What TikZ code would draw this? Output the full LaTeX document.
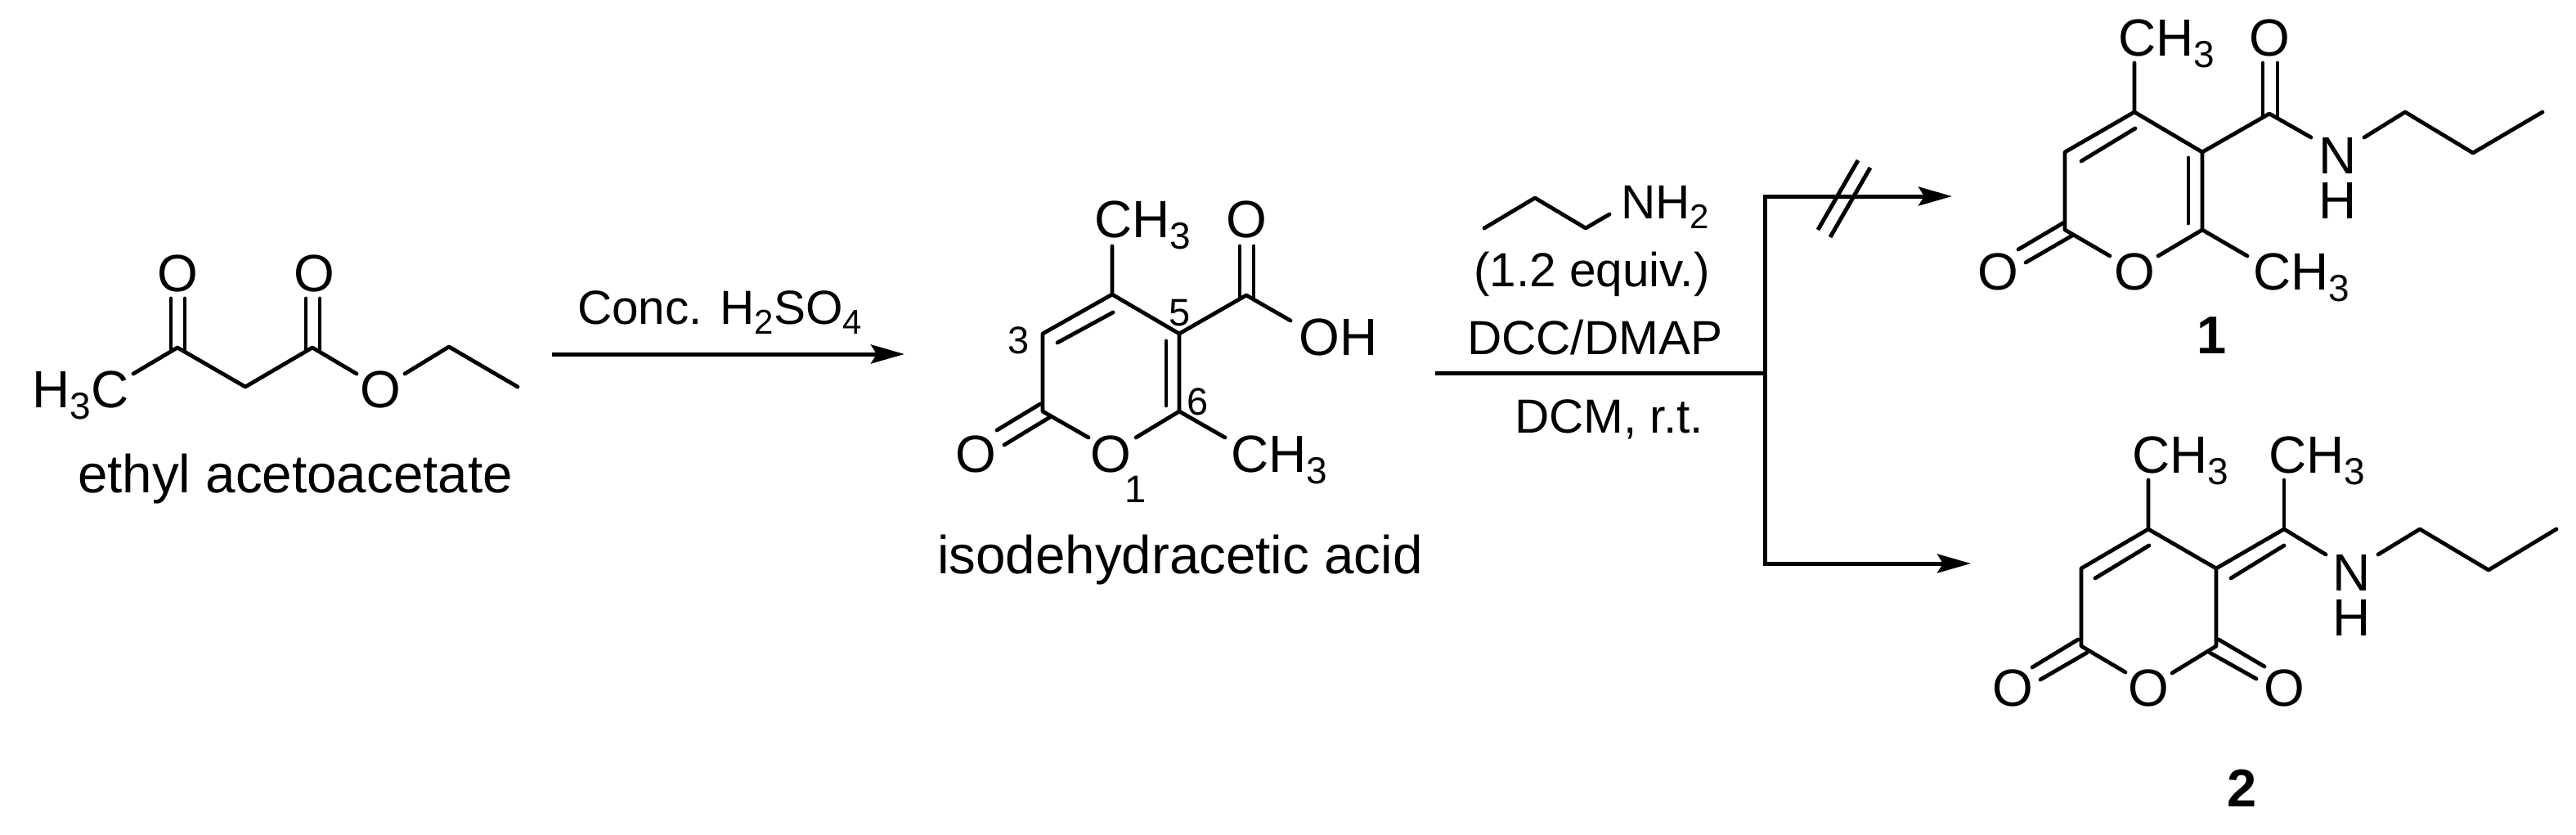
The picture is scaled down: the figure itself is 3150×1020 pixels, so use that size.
\documentclass[tikz,border=0pt]{standalone}
\usepackage{fontspec}
\setmainfont{Liberation Sans}
\usetikzlibrary{arrows.meta}
\newcommand{\chemsub}[1]{\raisebox{-14pt}{\fontsize{46}{46}\selectfont #1}}
\newcommand{\reagsub}[1]{\raisebox{-12pt}{\fontsize{42}{42}\selectfont #1}}
\tikzset{
  bond/.style={line width=4.8pt,line cap=round,line join=round,black},
  rxn/.style={line width=5pt,black},
  rxnarrow/.style={rxn,-{Stealth[length=41pt,width=23pt,inset=7pt]}},
  atom/.style={inner sep=0pt,anchor=base west,font=\fontsize{64}{64}\selectfont},
  catom/.style={inner sep=0pt,anchor=base,font=\fontsize{64}{64}\selectfont},
  caption/.style={inner sep=0pt,anchor=base west,font=\fontsize{65.5}{65.5}\selectfont},
  reagent/.style={inner sep=0pt,anchor=base west,font=\fontsize{58.5}{58.5}\selectfont},
  locant/.style={inner sep=0pt,anchor=base,font=\fontsize{47}{47}\selectfont},
  cmpd/.style={inner sep=0pt,anchor=base,font=\fontsize{65}{65}\selectfont\bfseries}
}
\begin{document}
\begin{tikzpicture}[x=1pt,y=-1pt]
\fill[white] (0,0) rectangle (3150,1020);
\useasboundingbox (0,0) rectangle (3150,1020);

% ---------- ethyl acetoacetate ----------
\node[atom] (eMe) at (39,498) {H\chemsub{3}C};
\node[catom] (eO1) at (217,356) {O};
\node[catom] (eO2) at (384,356) {O};
\node[catom] (eO3) at (465,498) {O};
\node[caption] (eName) at (95,602) {ethyl acetoacetate};
\coordinate (eA) at (163,457);
\coordinate (eC1) at (217,425);
\coordinate (eCH2) at (300,473);
\coordinate (eC2) at (382,425);
\coordinate (eB) at (436,457);
\coordinate (eD) at (495,457);
\coordinate (eE) at (549,424);
\coordinate (eF) at (633,473);
\coordinate (eP1) at (209,365); \coordinate (eP1b) at (209,428);
\coordinate (eP2) at (226,365); \coordinate (eP2b) at (226,428);
\coordinate (eP3) at (374,365); \coordinate (eP3b) at (374,428);
\coordinate (eP4) at (391,365); \coordinate (eP4b) at (391,428);
\draw[bond] (eA) -- (eC1) -- (eCH2) -- (eC2) -- (eB);
\draw[bond] (eD) -- (eE) -- (eF);
\draw[bond] (eP1) -- (eP1b);
\draw[bond] (eP2) -- (eP2b);
\draw[bond] (eP3) -- (eP3b);
\draw[bond] (eP4) -- (eP4b);

% ---------- arrow 1 ----------
\coordinate (arrA) at (675,433);
\coordinate (arrB) at (1106,433);
\draw[rxnarrow] (arrA) -- (arrB);
\node[reagent] (conc) at (706,396) {Conc. H\reagsub{2}SO\reagsub{4}};

% ---------- isodehydracetic acid ----------
\node[atom] (iMe1) at (1338,290) {CH\chemsub{3}};
\node[catom] (iO1) at (1524,290) {O};
\node[atom] (iOH) at (1588,434) {OH};
\node[catom] (iO2) at (1358,577) {O};
\node[catom] (iO3) at (1193,577) {O};
\node[atom] (iMe2) at (1505,577) {CH\chemsub{3}};
\node[locant] (n3) at (1246,432) {3};
\node[locant] (n5) at (1443,398) {5};
\node[locant] (n6) at (1465,507) {6};
\node[locant] (n1) at (1389,614) {1};
\node[caption] (iName) at (1146,701) {isodehydracetic acid};
\coordinate (iC4) at (1360,360);
\coordinate (iC4t) at (1360,301);
\coordinate (iC3) at (1275,408);
\coordinate (iC2) at (1275,503);
\coordinate (iC5) at (1442,408);
\coordinate (iC6) at (1442,503);
\coordinate (iOa) at (1331,535);
\coordinate (iOb) at (1389,535);
\coordinate (iMe2a) at (1498,535);
\coordinate (iCc) at (1524,361);
\coordinate (iOHa) at (1578,392);
\coordinate (iIn1) at (1293,419); \coordinate (iIn2) at (1361,382);
\coordinate (iIn3) at (1426,417); \coordinate (iIn4) at (1426,496);
\coordinate (iK1) at (1219,526); \coordinate (iK2) at (1272,494);
\coordinate (iK3) at (1228,544); \coordinate (iK4) at (1284,510);
\coordinate (iL1) at (1516,301); \coordinate (iL2) at (1516,364);
\coordinate (iL3) at (1533,301); \coordinate (iL4) at (1533,364);
\draw[bond] (iC4t) -- (iC4) -- (iC3) -- (iC2) -- (iOa);
\draw[bond] (iC4) -- (iC5) -- (iC6) -- (iOb);
\draw[bond] (iC6) -- (iMe2a);
\draw[bond] (iC5) -- (iCc) -- (iOHa);
\draw[bond] (iIn1) -- (iIn2);
\draw[bond] (iIn3) -- (iIn4);
\draw[bond] (iK1) -- (iK2);
\draw[bond] (iK3) -- (iK4);
\draw[bond] (iL1) -- (iL2);
\draw[bond] (iL3) -- (iL4);

% ---------- reagents ----------
\node[reagent] (nh2) at (1982,267) {NH\reagsub{2}};
\node[reagent] (equiv) at (1802,350) {(1.2 equiv.)};
\node[reagent] (dcc) at (1794,433) {DCC/DMAP};
\node[reagent] (dcm) at (1852,529) {DCM, r.t.};
\coordinate (pA) at (1815,279);
\coordinate (pB) at (1877,242);
\coordinate (pC) at (1939,279);
\coordinate (pD) at (1968,262);
\draw[bond] (pA) -- (pB) -- (pC) -- (pD);

% ---------- branched arrow ----------
\coordinate (brS) at (1755,456);
\coordinate (brM) at (2158,456);
\coordinate (brT) at (2158,237.5);
\coordinate (brB) at (2158,691.5);
\coordinate (brTa) at (2155.5,240);
\coordinate (brBa) at (2155.5,689);
\coordinate (tipT) at (2387,240);
\coordinate (tipB) at (2410,689);
\coordinate (sl1a) at (2272,196); \coordinate (sl1b) at (2223,281);
\coordinate (sl2a) at (2287,205); \coordinate (sl2b) at (2238,290);
\draw[rxn] (brS) -- (brM);
\draw[rxn] (brT) -- (brB);
\draw[rxnarrow] (brTa) -- (tipT);
\draw[rxnarrow] (brBa) -- (tipB);
\draw[rxn] (sl1a) -- (sl1b);
\draw[rxn] (sl2a) -- (sl2b);

% ---------- compound 1 ----------
\node[atom] (aMe1) at (2590,68) {CH\chemsub{3}};
\node[catom] (aO1) at (2775,68) {O};
\node[catom] (aO2) at (2610,354) {O};
\node[catom] (aO3) at (2443,354) {O};
\node[atom] (aMe2) at (2755,354) {CH\chemsub{3}};
\node[catom] (aN) at (2859,212) {N};
\node[catom] (aH) at (2859,267) {H};
\node[cmpd] (lab1) at (2705,432) {1};
\coordinate (aC4) at (2610,137);
\coordinate (aC4t) at (2610,77);
\coordinate (aC3) at (2525,186);
\coordinate (aC2) at (2525,281);
\coordinate (aC5) at (2693,186);
\coordinate (aC6) at (2693,281);
\coordinate (aOa) at (2580,313);
\coordinate (aOb) at (2639,313);
\coordinate (aMe2a) at (2748,313);
\coordinate (aCc) at (2775,139);
\coordinate (aNa) at (2826,168);
\coordinate (aNb) at (2891,168);
\coordinate (aP1) at (2941,137);
\coordinate (aP2) at (3024,187);
\coordinate (aP3) at (3109,137);
\coordinate (aIn1) at (2545,197); \coordinate (aIn2) at (2611,157);
\coordinate (aIn3) at (2676,193); \coordinate (aIn4) at (2676,273);
\coordinate (aK1) at (2468,305); \coordinate (aK2) at (2524,272);
\coordinate (aK3) at (2477,321); \coordinate (aK4) at (2534,288);
\coordinate (aL1) at (2767,77); \coordinate (aL2) at (2767,142);
\coordinate (aL3) at (2785,77); \coordinate (aL4) at (2785,142);
\draw[bond] (aC4t) -- (aC4) -- (aC3) -- (aC2) -- (aOa);
\draw[bond] (aC4) -- (aC5) -- (aC6) -- (aOb);
\draw[bond] (aC6) -- (aMe2a);
\draw[bond] (aC5) -- (aCc) -- (aNa);
\draw[bond] (aNb) -- (aP1) -- (aP2) -- (aP3);
\draw[bond] (aIn1) -- (aIn2);
\draw[bond] (aIn3) -- (aIn4);
\draw[bond] (aK1) -- (aK2);
\draw[bond] (aK3) -- (aK4);
\draw[bond] (aL1) -- (aL2);
\draw[bond] (aL3) -- (aL4);

% ---------- compound 2 ----------
\node[atom] (bMe1) at (2607,578) {CH\chemsub{3}};
\node[atom] (bMe2) at (2774,578) {CH\chemsub{3}};
\node[catom] (bO2) at (2627,863) {O};
\node[catom] (bO3) at (2461,863) {O};
\node[catom] (bO4) at (2793,863) {O};
\node[catom] (bN) at (2876,722) {N};
\node[catom] (bH) at (2876,777) {H};
\node[cmpd] (lab2) at (2742,986) {2};
\coordinate (bC4) at (2627,647);
\coordinate (bC4t) at (2627,587);
\coordinate (bC3) at (2545,695);
\coordinate (bC2) at (2545,790);
\coordinate (bC5) at (2710,695);
\coordinate (bC6) at (2710,790);
\coordinate (bOa) at (2599,822);
\coordinate (bOb) at (2656,823);
\coordinate (bCe) at (2793,647);
\coordinate (bCet) at (2793,587);
\coordinate (bNa) at (2844,678);
\coordinate (bNb) at (2908,678);
\coordinate (bP1) at (2959,647);
\coordinate (bP2) at (3043,697);
\coordinate (bP3) at (3126,647);
\coordinate (bIn1) at (2562,707); \coordinate (bIn2) at (2628,667);
\coordinate (bIn3) at (2728,707); \coordinate (bIn4) at (2793,667);
\coordinate (bK1) at (2485,816); \coordinate (bK2) at (2541,782);
\coordinate (bK3) at (2495,831); \coordinate (bK4) at (2552,798);
\coordinate (bM1) at (2769,815); \coordinate (bM2) at (2713,782);
\coordinate (bM3) at (2759,830); \coordinate (bM4) at (2702,798);
\draw[bond] (bC4t) -- (bC4) -- (bC3) -- (bC2) -- (bOa);
\draw[bond] (bC4) -- (bC5) -- (bC6) -- (bOb);
\draw[bond] (bC5) -- (bCe) -- (bNa);
\draw[bond] (bCet) -- (bCe);
\draw[bond] (bNb) -- (bP1) -- (bP2) -- (bP3);
\draw[bond] (bIn1) -- (bIn2);
\draw[bond] (bIn3) -- (bIn4);
\draw[bond] (bK1) -- (bK2);
\draw[bond] (bK3) -- (bK4);
\draw[bond] (bM1) -- (bM2);
\draw[bond] (bM3) -- (bM4);
\end{tikzpicture}
\end{document}
